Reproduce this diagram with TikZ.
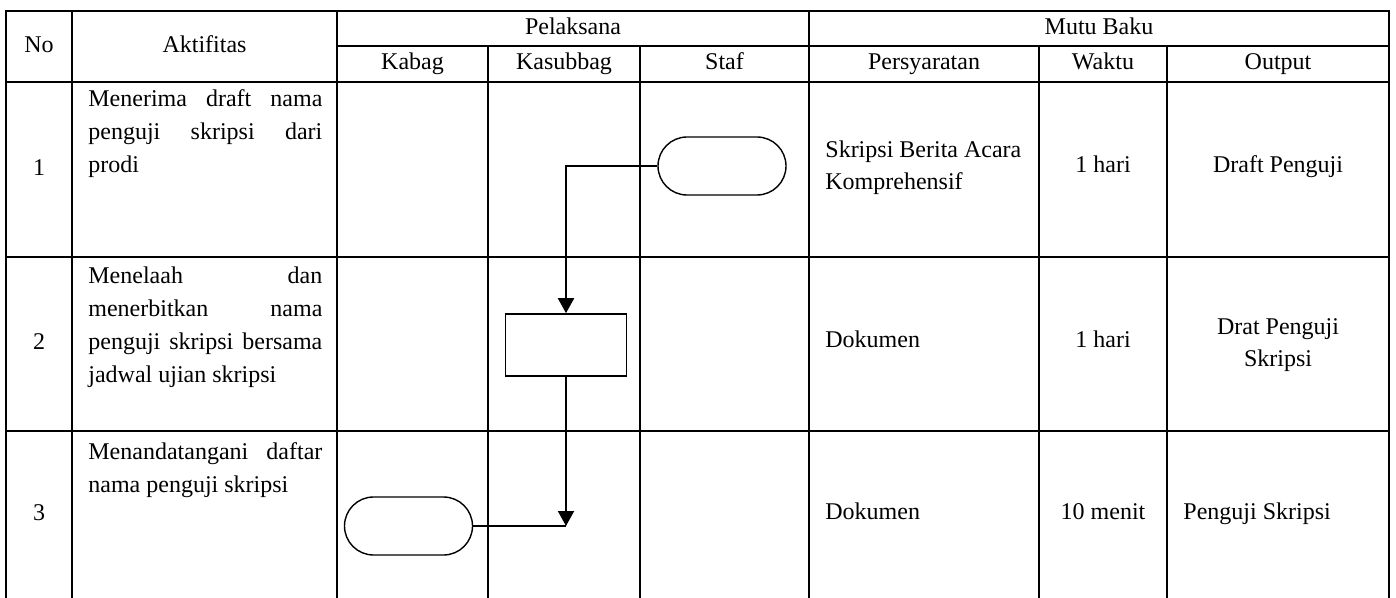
\documentclass[tikz,border=0pt]{standalone}
\usepackage{fontspec}
\setmainfont{Liberation Serif}
\usetikzlibrary{shapes.misc,arrows.meta}
\newcommand{\jl}[1]{\makebox[117pt][s]{#1}}
\tikzset{
  grid/.style={line width=1pt,line cap=rect},
  lbl/.style={inner sep=0pt,text height=8.5pt,text depth=2.5pt,font=\fontsize{12}{16}\selectfont},
  lbltwo/.style={inner sep=0pt,font=\fontsize{12}{16}\selectfont},
  akt/.style={inner sep=0pt,anchor=north west,align=left,font=\fontsize{12}{16.5}\selectfont},
  term/.style={draw,rounded rectangle,line width=0.7pt,minimum width=64pt,minimum height=29pt,inner sep=0pt},
  proc/.style={draw,rectangle,line width=0.8pt,minimum width=60.5pt,minimum height=31pt,inner sep=0pt},
  flow/.style={line width=1pt},
  flowarr/.style={line width=1pt,-{Triangle[width=8pt,length=7.5pt]}}
}
\begin{document}
\begin{tikzpicture}[x=0.5pt,y=-0.5pt]
\useasboundingbox (0,0) rectangle (1396,598);
% table lines
\draw[grid] (6,11) -- (1389,11);
\draw[grid] (337,46) -- (1389,46);
\draw[grid] (6,82) -- (1389,82);
\draw[grid] (6,257) -- (1389,257);
\draw[grid] (6,431) -- (1389,431);
\foreach \x in {6,72,337,809,1389} \draw[grid] (\x,11) -- (\x,598);
\foreach \x in {488,640,1039,1167} \draw[grid] (\x,46) -- (\x,598);
% header
\node[lbl] (hno) at (39,46.5) {No};
\node[lbl] (hakt) at (204.5,46.5) {Aktifitas};
\node[lbl] (hpel) at (573,28.5) {Pelaksana};
\node[lbl] (hkab) at (412.5,64) {Kabag};
\node[lbl] (hksb) at (564,64) {Kasubbag};
\node[lbl] (hstf) at (724.5,64) {Staf};
\node[lbl] (hmb) at (1099,28.5) {Mutu Baku};
\node[lbl] (hpsy) at (924,64) {Persyaratan};
\node[lbl] (hwkt) at (1103,64) {Waktu};
\node[lbl] (hout) at (1278,64) {Output};
% row numbers
\node[lbl] (n1) at (39,170) {1};
\node[lbl] (n2) at (39,344) {2};
\node[lbl] (n3) at (39,514) {3};
% activities
\node[akt] (a1) at (88,89) {\jl{Menerima draft nama}\\\jl{penguji skripsi dari}\\prodi};
\node[akt] (a2) at (88,266) {\jl{Menelaah dan}\\\jl{menerbitkan nama}\\\jl{penguji skripsi bersama}\\jadwal ujian skripsi};
\node[akt] (a3) at (88,442) {\jl{Menandatangani daftar}\\nama penguji skripsi};
% mutu baku
\node[lbltwo,anchor=west,align=left] (p1) at (825,168) {Skripsi Berita Acara\\Komprehensif};
\node[lbl,anchor=west] (p2) at (825,342) {Dokumen};
\node[lbl,anchor=west] (p3) at (825,513) {Dokumen};
\node[lbl] (w1) at (1103,167) {1 hari};
\node[lbl] (w2) at (1103,342) {1 hari};
\node[lbl] (w3) at (1103,513) {10 menit};
\node[lbl] (o1) at (1278,167) {Draft Penguji};
\node[lbltwo,align=center] (o2) at (1278,345) {Drat Penguji\\Skripsi};
\node[lbl,anchor=west] (o3) at (1183,513) {Penguji Skripsi};
% flow shapes
\node[term] (t1) at (722,166) {};
\node[proc] (pr) at (566,345) {};
\node[term] (t2) at (408.5,526) {};
\coordinate (j) at (pr.south |- t2.east);
\draw[flowarr] (t1.west) -| (pr.north);
\draw[flowarr] (pr.south) -- (j);
\draw[flow] (t2.east) -- (j);
\end{tikzpicture}
\end{document}
